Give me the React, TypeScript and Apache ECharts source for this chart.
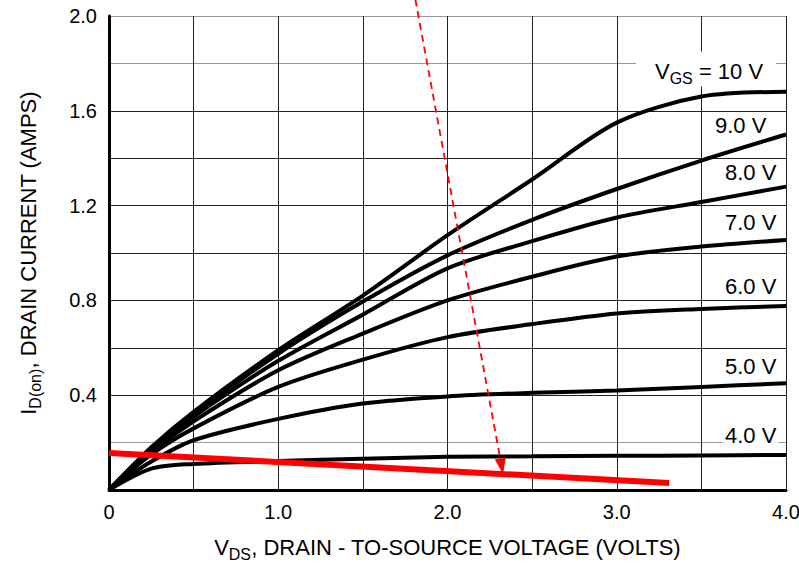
import React, { useEffect, useRef } from "react";
import * as echarts from "echarts";

// V_DS sample points (volts)
const vds = [0, 0.25, 0.5, 1.0, 1.5, 2.0, 2.5, 3.0, 3.5, 4.0];

// I_D (amps) per V_GS
const id10 = [0, 0.18, 0.33, 0.59, 0.82, 1.075, 1.31, 1.55, 1.66, 1.68];
const id9 = [0, 0.175, 0.32, 0.575, 0.795, 0.99, 1.14, 1.27, 1.39, 1.5];
const id8 = [0, 0.17, 0.31, 0.545, 0.74, 0.935, 1.05, 1.15, 1.215, 1.28];
const id7 = [0, 0.16, 0.29, 0.505, 0.66, 0.8, 0.9, 0.985, 1.027, 1.055];
const id6 = [0, 0.15, 0.26, 0.435, 0.55, 0.645, 0.7, 0.745, 0.764, 0.776];
const id5 = [0, 0.12, 0.21, 0.3, 0.365, 0.395, 0.41, 0.42, 0.435, 0.45];
const id4 = [0, 0.09, 0.11, 0.122, 0.132, 0.14, 0.142, 0.144, 0.146, 0.148];

// red annotations
const redLineX = [0, 3.31];
const redLineY = [0.156, 0.03];
const arrowX = [1.81, 2.32];
const arrowY = [2.07, 0.1];

// curve labels
const curveLabels = ["9.0 V", "8.0 V", "7.0 V", "6.0 V", "5.0 V", "4.0 V"];

const xTicks = [0, 1, 2, 3, 4];
const yTicks = [0.4, 0.8, 1.2, 1.6, 2.0];

const FONT = '"Liberation Sans", Arial, sans-serif';

const zip = (xs: number[], ys: number[]) => xs.map((x, i) => [x, ys[i]]);

export default function App() {
  const ref = useRef<HTMLDivElement>(null);
  useEffect(() => {
    if (!ref.current) return;
    const chart = echarts.init(ref.current, null, { renderer: "svg" });

    const curve = (name: string, ys: number[]) => ({
      name,
      type: "line",
      data: zip(vds, ys),
      smooth: 0.3,
      showSymbol: false,
      symbol: "none",
      lineStyle: { color: "#000", width: 4 },
      z: 3,
    });

    const labelPos = [
      [713, 125],
      [723, 172],
      [723, 222],
      [723, 286],
      [723, 366],
      [723, 435],
    ];

    const subRich = {
      a: { fontFamily: FONT, fontSize: 22, color: "#000", lineHeight: 22 },
      b: { fontFamily: FONT, fontSize: 16, color: "#000", lineHeight: 16, padding: [14, 0, 0, 0] },
    };

    chart.setOption({
      animation: false,
      backgroundColor: "#fff",
      grid: { left: 109, right: 13, top: 16, bottom: 74, containLabel: false, outerBoundsMode: "none" },
      xAxis: {
        type: "value",
        min: 0,
        max: 4,
        interval: 0.5,
        axisLine: { show: true, onZero: false, lineStyle: { color: "#000", width: 3 } },
        axisTick: { show: false },
        axisLabel: {
          margin: 12,
          fontFamily: FONT,
          fontSize: 20,
          color: "#000",
          formatter: (v: number) => {
            const t = xTicks.find((k) => Math.abs(k - v) < 1e-6);
            if (t === undefined) return "";
            return t === 0 ? "0" : t.toFixed(1);
          },
        },
        splitLine: { show: true, lineStyle: { color: "#222", width: 1 } },
        name: "{a|V}{b|DS}{a|, DRAIN - TO-SOURCE VOLTAGE (VOLTS)}",
        nameLocation: "middle",
        nameGap: 46,
        nameTextStyle: { rich: subRich },
      },
      yAxis: {
        type: "value",
        min: 0,
        max: 2,
        interval: 0.2,
        axisLine: { show: true, onZero: false, lineStyle: { color: "#000", width: 3 } },
        axisTick: { show: false },
        axisLabel: {
          margin: 12,
          fontFamily: FONT,
          fontSize: 20,
          color: "#000",
          formatter: (v: number) => {
            const t = yTicks.find((k) => Math.abs(k - v) < 1e-6);
            return t === undefined ? "" : t.toFixed(1);
          },
        },
        splitLine: {
          show: true,
          lineStyle: {
            width: 1,
            color: ["#222", "#999", "#222", "#222", "#222", "#222", "#222", "#222", "#222", "#999", "#999"],
          },
        },
        name: "{a|I}{b|D(on)}{a|, DRAIN CURRENT (AMPS)}",
        nameLocation: "middle",
        nameGap: 70,
        nameTextStyle: { rich: subRich },
      },
      series: [
        curve("10 V", id10),
        curve("9.0 V", id9),
        curve("8.0 V", id8),
        curve("7.0 V", id7),
        curve("6.0 V", id6),
        curve("5.0 V", id5),
        curve("4.0 V", id4),
        {
          name: "red",
          type: "line",
          data: zip(redLineX, redLineY),
          showSymbol: false,
          symbol: "none",
          lineStyle: { color: "#ff0000", width: 6 },
          z: 5,
        },
        {
          name: "arrow",
          type: "line",
          clip: false,
          data: zip(arrowX, arrowY).map((p, i) =>
            i === 0
              ? { value: p, symbol: "none" }
              : { value: p, symbol: "triangle", symbolSize: [11, 16], symbolRotate: 190 }
          ),
          showSymbol: true,
          showAllSymbol: true,
          itemStyle: { color: "#ff0000" },
          lineStyle: { color: "#ff0000", width: 1.8, type: [7, 5] },
          z: 6,
        },
      ],
      graphic: [
        {
          type: "text",
          x: 636,
          y: 69,
          z: 10,
          style: {
            text: "{a|V}{b|GS}{a| = 10 V}",
            rich: subRich,
            align: "left",
            verticalAlign: "middle",
            backgroundColor: "#fff",
            padding: [9, 13, 4, 19],
          },
        },
        ...curveLabels.map((t, i) => ({
          type: "text",
          x: labelPos[i][0],
          y: labelPos[i][1],
          z: 10,
          style: {
            text: t,
            font: `22px ${FONT}`,
            fill: "#000",
            align: "left",
            verticalAlign: "middle",
            backgroundColor: "#fff",
            padding: [1, 2, 1, 2],
          },
        })),
      ],
    });
    return () => chart.dispose();
  }, []);
  return (
    <div
      ref={ref}
      style={{ position: "fixed", left: 0, top: 0, width: 799, height: 564, background: "#fff" }}
    />
  );
}
